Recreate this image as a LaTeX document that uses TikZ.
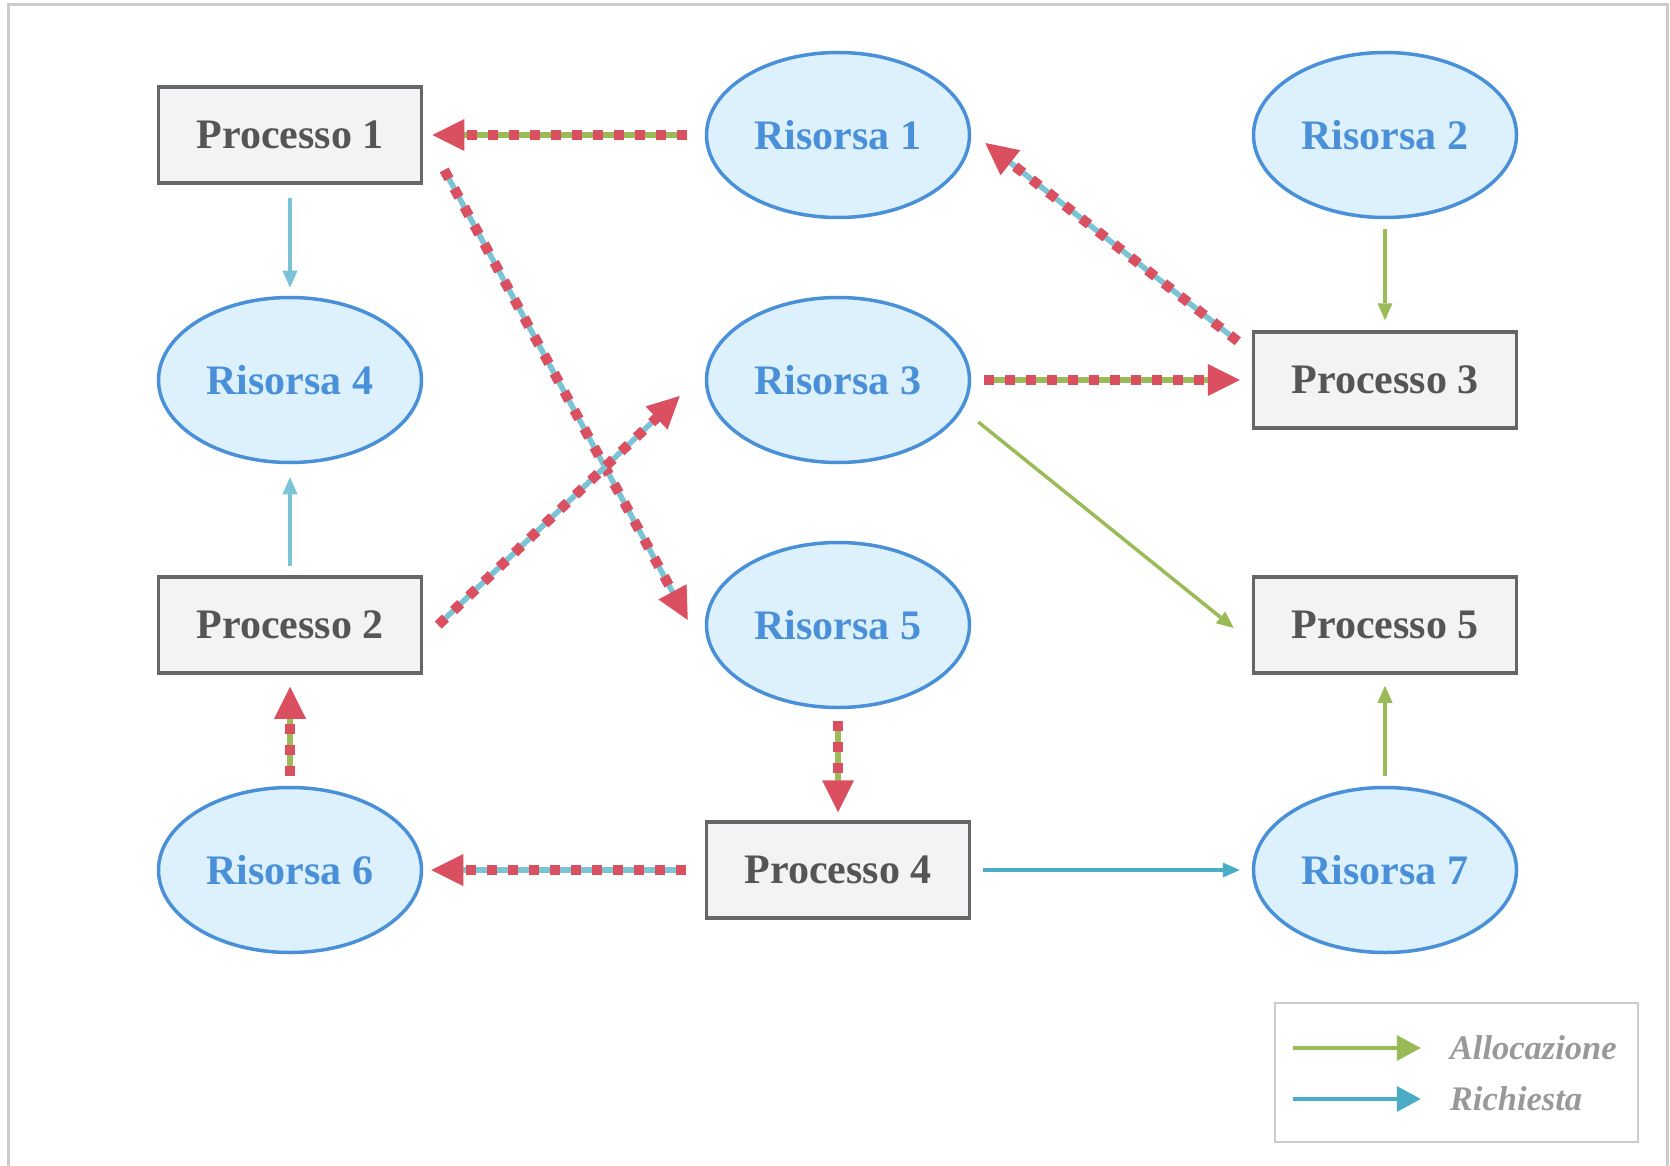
\documentclass[tikz,border=0pt]{standalone}
\usepackage{fontspec}
\setmainfont{Liberation Serif}
\usetikzlibrary{arrows.meta,shapes.geometric,calc}
\definecolor{dred}{HTML}{DB5060}
\definecolor{agreen}{HTML}{9BBB59}
\definecolor{rqlight}{HTML}{7AC4D6}
\definecolor{rqdark}{HTML}{4BACC6}
\definecolor{resborder}{HTML}{4A90D9}
\definecolor{resfill}{HTML}{DDF1FD}
\definecolor{procborder}{HTML}{666666}
\definecolor{procfill}{HTML}{F3F3F5}
\definecolor{proctext}{HTML}{555555}
\definecolor{legtext}{HTML}{999999}
\definecolor{frame}{HTML}{CCCCCC}
\tikzset{
  proc/.style={rectangle, draw=procborder, line width=3.5pt, fill=procfill,
    minimum width=263pt, minimum height=96pt, inner sep=0pt, text=proctext,
    font=\fontsize{42}{50}\selectfont\bfseries},
  res/.style={ellipse, draw=resborder, line width=3.5pt, fill=resfill,
    minimum width=263pt, minimum height=165pt, inner sep=0pt, text=resborder,
    font=\fontsize{42}{50}\selectfont\bfseries},
  plainarrow/.style={line width=3.5pt, -{Triangle[length=17pt,width=15pt,line width=0pt]}},
  basepath/.style={line width=5.5pt},
  reddash/.style={draw=dred, line width=10pt, dash pattern=on 10pt off 11pt,
    -{Triangle[length=32pt,width=32pt,line width=0pt]}},
  legarrow/.style={line width=4.5pt, -{Triangle[length=24pt,width=26pt,line width=0pt]}},
  legtxt/.style={anchor=west, text=legtext, inner sep=0pt,
    font=\fontsize{34.5}{40}\selectfont\bfseries\itshape}
}
% #1 base colour, #2 start, #3 end, #4 shorten start, #5 shorten end
\newcommand\deadedge[5]{%
  \draw[basepath, draw=#1, shorten <=#4, shorten >=#5+20pt] #2 -- #3;
  \draw[reddash, shorten <=#4, shorten >=#5] #2 -- #3;}
\begin{document}
\begin{tikzpicture}[x=1pt,y=-1pt]
\useasboundingbox (0,0) rectangle (1670,1166);
\fill[white] (0,0) rectangle (1670,1166);
\draw[frame, line width=3pt] (8,1200) -- (8,5) -- (1667,5) -- (1667,1200);

% nodes
\node[proc] (p1) at (290,135) {Processo 1};
\node[res]  (r1) at (838,135) {Risorsa 1};
\node[res]  (r2) at (1385,135) {Risorsa 2};
\node[res]  (r4) at (290,380) {Risorsa 4};
\node[res]  (r3) at (838,380) {Risorsa 3};
\node[proc] (p3) at (1385,380) {Processo 3};
\node[proc] (p2) at (290,625) {Processo 2};
\node[res]  (r5) at (838,625) {Risorsa 5};
\node[proc] (p5) at (1385,625) {Processo 5};
\node[res]  (r6) at (290,870) {Risorsa 6};
\node[proc] (p4) at (838,870) {Processo 4};
\node[res]  (r7) at (1385,870) {Risorsa 7};

% plain arrows
\draw[plainarrow, draw=rqlight, fill=rqlight, shorten <=13pt, shorten >=8pt] (p1.south) -- (r4.north);
\draw[plainarrow, draw=rqlight, fill=rqlight, shorten <=9pt, shorten >=13pt] (p2.north) -- (r4.south);
\draw[plainarrow, draw=agreen, fill=agreen, shorten <=10pt, shorten >=10pt] (r2.south) -- (p3.north);
\draw[plainarrow, draw=agreen, fill=agreen] ($(r3.east)+(7,42)$) -- ($(p5.west)+(-18,3)$);
\draw[plainarrow, draw=agreen, fill=agreen, shorten <=10pt, shorten >=11pt] (r7.north) -- (p5.south);
\draw[plainarrow, draw=rqdark, fill=rqdark, shorten <=12pt, shorten >=12pt] (p4.east) -- (r7.west);

% deadlock (highlighted) edges
\deadedge{agreen}{(r1.west)}{(p1.east)}{18pt}{9pt}
\deadedge{rqlight}{($(p1.east)+(21,35)$)}{($(r5.west)+(-17,-5)$)}{0pt}{0pt}
\deadedge{rqlight}{($(p3.north west)+(-14,11)$)}{($(r1.east)+(14,8)$)}{0pt}{0pt}
\deadedge{agreen}{(r3.east)}{(p3.west)}{13pt}{12pt}
\deadedge{rqlight}{($(p2.east)+(15,0)$)}{($(r3.west)+(-25,16)$)}{0pt}{0pt}
\deadedge{agreen}{(r6.north)}{(p2.south)}{10pt}{12pt}
\deadedge{agreen}{(r5.south)}{(p4.north)}{12pt}{8pt}
\deadedge{rqlight}{(p4.west)}{(r6.east)}{19pt}{8pt}

% legend
\node[draw=frame, line width=2.5pt, minimum width=363pt, minimum height=139pt, inner sep=0pt] (leg) at (1456.5,1072.5) {};
\coordinate (la1) at ($(leg.west)+(19,-24.5)$);
\coordinate (la2) at ($(leg.west)+(147,-24.5)$);
\coordinate (lb1) at ($(leg.west)+(19,26.5)$);
\coordinate (lb2) at ($(leg.west)+(147,26.5)$);
\draw[legarrow, draw=agreen, fill=agreen] (la1) -- (la2);
\draw[legarrow, draw=rqdark, fill=rqdark] (lb1) -- (lb2);
\node[legtxt] (lt1) at ($(leg.west)+(176,-24.5)$) {Allocazione};
\node[legtxt] (lt2) at ($(leg.west)+(176,26.5)$) {Richiesta};
\end{tikzpicture}
\end{document}
